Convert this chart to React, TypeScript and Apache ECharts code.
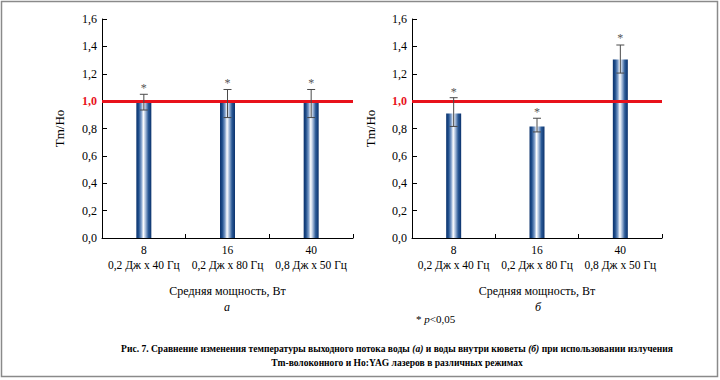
import React, { useEffect, useRef } from "react";
import * as echarts from "echarts";

const powerLabels = ["8", "16", "40"];
const modeLabels = ["0,2 Дж х 40 Гц", "0,2 Дж х 80 Гц", "0,8 Дж х 50 Гц"];

const leftValues = [0.99, 0.99, 0.99];
const leftErrLow = [0.935, 0.88, 0.88];
const leftErrHigh = [1.05, 1.085, 1.085];
const leftStars = [1.12, 1.155, 1.155];

const rightValues = [0.91, 0.815, 1.305];
const rightErrLow = [0.815, 0.775, 1.205];
const rightErrHigh = [1.025, 0.875, 1.41];
const rightStars = [1.09, 0.945, 1.48];

const referenceLevel = 1.0;

const SERIF = "'Liberation Serif', 'DejaVu Serif', serif";

const categories = powerLabels.map((p, i) => p + "\n" + modeLabels[i]);

const barGradient = new echarts.graphic.LinearGradient(0, 0, 1, 0, [
  { offset: 0, color: "#0b326c" },
  { offset: 0.15, color: "#1d4c8a" },
  { offset: 0.33, color: "#7d9dc9" },
  { offset: 0.47, color: "#ffffff" },
  { offset: 0.6, color: "#aec2de" },
  { offset: 0.8, color: "#2a5996" },
  { offset: 1, color: "#0b326c" },
]);

function makeSeries(
  idx: number,
  values: number[],
  low: number[],
  high: number[],
  stars: number[]
) {
  return [
    {
      type: "bar",
      xAxisIndex: idx,
      yAxisIndex: idx,
      data: values,
      barWidth: 15,
      itemStyle: { color: barGradient },
      z: 2,
    },
    {
      type: "custom",
      xAxisIndex: idx,
      yAxisIndex: idx,
      data: values.map((_, i) => [i, low[i], high[i]]),
      encode: { x: 0, y: [1, 2] },
      z: 5,
      renderItem: (params: any, api: any) => {
        const x = api.value(0);
        const p1 = api.coord([x, api.value(1)]);
        const p2 = api.coord([x, api.value(2)]);
        const hw = 4;
        const style = { stroke: "#4a4a4a", lineWidth: 1 };
        return {
          type: "group",
          children: [
            { type: "line", shape: { x1: p1[0], y1: p1[1], x2: p2[0], y2: p2[1] }, style },
            { type: "line", shape: { x1: p1[0] - hw, y1: p1[1], x2: p1[0] + hw, y2: p1[1] }, style },
            { type: "line", shape: { x1: p2[0] - hw, y1: p2[1], x2: p2[0] + hw, y2: p2[1] }, style },
          ],
        };
      },
    },
    {
      type: "custom",
      xAxisIndex: idx,
      yAxisIndex: idx,
      data: stars.map((s, i) => [i, s]),
      encode: { x: 0, y: 1 },
      z: 5,
      renderItem: (params: any, api: any) => {
        const p = api.coord([api.value(0), api.value(1)]);
        return {
          type: "text",
          style: {
            text: "*",
            x: p[0],
            y: p[1] + 3,
            textAlign: "center",
            textVerticalAlign: "middle",
            fill: "#555555",
            fontFamily: SERIF,
            fontSize: 12,
          },
        };
      },
    },
    {
      type: "line",
      xAxisIndex: idx,
      yAxisIndex: idx,
      data: [],
      markLine: {
        silent: true,
        symbol: "none",
        label: { show: false },
        lineStyle: { color: "#e8111b", width: 3, type: "solid" },
        data: [{ yAxis: referenceLevel }],
      },
      z: 4,
    },
  ];
}

export default function App() {
  const ref = useRef<HTMLDivElement>(null);
  useEffect(() => {
    if (!ref.current) return;
    const chart = echarts.init(ref.current, null, { renderer: "svg" });
    const grids = [
      { left: 102, top: 19, width: 251, height: 219 },
      { left: 412, top: 19, width: 250, height: 219 },
    ];
    const xAxisCommon = {
      type: "category",
      data: categories,
      axisLine: { lineStyle: { color: "#000", width: 1 } },
      axisTick: { show: true, inside: true, length: 4, alignWithLabel: false, lineStyle: { color: "#000" } },
      axisLabel: {
        interval: 0,
        color: "#000",
        fontFamily: SERIF,
        fontSize: 11.5,
        lineHeight: 15,
        margin: 4,
      },
      name: "Средняя мощность, Вт",
      nameLocation: "middle",
      nameGap: 47,
      nameTextStyle: { color: "#000", fontFamily: SERIF, fontSize: 12 },
    };
    const yAxisCommon = {
      type: "value",
      min: 0,
      max: 1.6,
      interval: 0.2,
      axisLine: { show: true, lineStyle: { color: "#000", width: 1 } },
      axisTick: { show: true, inside: true, length: 5, lineStyle: { color: "#000" } },
      splitLine: { show: false },
      axisLabel: {
        color: "#000",
        fontFamily: SERIF,
        fontSize: 12,
        margin: 5,
        formatter: (v: number) => {
          const s = v.toFixed(1).replace(".", ",");
          return Math.abs(v - referenceLevel) < 1e-6 ? "{r|" + s + "}" : s;
        },
        rich: {
          r: { color: "#e8111b", fontWeight: "bold", fontFamily: SERIF, fontSize: 12 },
        },
      },
      name: "Tm/Ho",
      nameLocation: "middle",
      nameGap: 36,
      nameTextStyle: { color: "#000", fontFamily: SERIF, fontSize: 13 },
    };
    const option: any = {
      animation: false,
      backgroundColor: "#ffffff",
      grid: grids,
      xAxis: [
        { ...xAxisCommon, gridIndex: 0 },
        { ...xAxisCommon, gridIndex: 1 },
      ],
      yAxis: [
        { ...yAxisCommon, gridIndex: 0 },
        { ...yAxisCommon, gridIndex: 1, nameGap: 35 },
      ],
      series: [
        ...makeSeries(0, leftValues, leftErrLow, leftErrHigh, leftStars),
        ...makeSeries(1, rightValues, rightErrLow, rightErrHigh, rightStars),
      ],
      graphic: [
        {
          type: "rect",
          shape: { x: 1.5, y: 1.5, width: 716, height: 375 },
          style: { fill: "none", stroke: "#8a8a8a", lineWidth: 1.5 },
          silent: true,
        },
        {
          type: "text",
          x: 227,
          y: 307,
          style: {
            text: "а",
            textAlign: "center",
            textVerticalAlign: "middle",
            fontFamily: SERIF,
            fontStyle: "italic",
            fontSize: 12,
            fill: "#000",
          },
        },
        {
          type: "text",
          x: 538,
          y: 307,
          style: {
            text: "б",
            textAlign: "center",
            textVerticalAlign: "middle",
            fontFamily: SERIF,
            fontStyle: "italic",
            fontSize: 12,
            fill: "#000",
          },
        },
        {
          type: "text",
          x: 416,
          y: 319,
          style: {
            text: "* {i|p}<0,05",
            textAlign: "left",
            textVerticalAlign: "middle",
            fontFamily: SERIF,
            fontSize: 11,
            fill: "#000",
            rich: { i: { fontStyle: "italic", fontFamily: SERIF, fontSize: 11 } },
          },
        },
        {
          type: "text",
          x: 397,
          y: 348,
          scaleX: 0.955,
          style: {
            text: "Рис. 7. Сравнение изменения температуры выходного потока воды {i|(а)} и воды внутри кюветы {i|(б)} при использовании излучения",
            textAlign: "center",
            textVerticalAlign: "middle",
            fontFamily: SERIF,
            fontWeight: "bold",
            fontSize: 10,
            fill: "#000",
            rich: { i: { fontStyle: "italic", fontWeight: "bold", fontFamily: SERIF, fontSize: 10 } },
          },
        },
        {
          type: "text",
          x: 397,
          y: 362,
          scaleX: 0.955,
          style: {
            text: "Tm-волоконного и Ho:YAG лазеров в различных режимах",
            textAlign: "center",
            textVerticalAlign: "middle",
            fontFamily: SERIF,
            fontWeight: "bold",
            fontSize: 10,
            fill: "#000",
          },
        },
      ],
    };
    chart.setOption(option);
    return () => chart.dispose();
  }, []);
  return (
    <div
      ref={ref}
      style={{ position: "fixed", left: 0, top: 0, width: 720, height: 380 }}
    />
  );
}
